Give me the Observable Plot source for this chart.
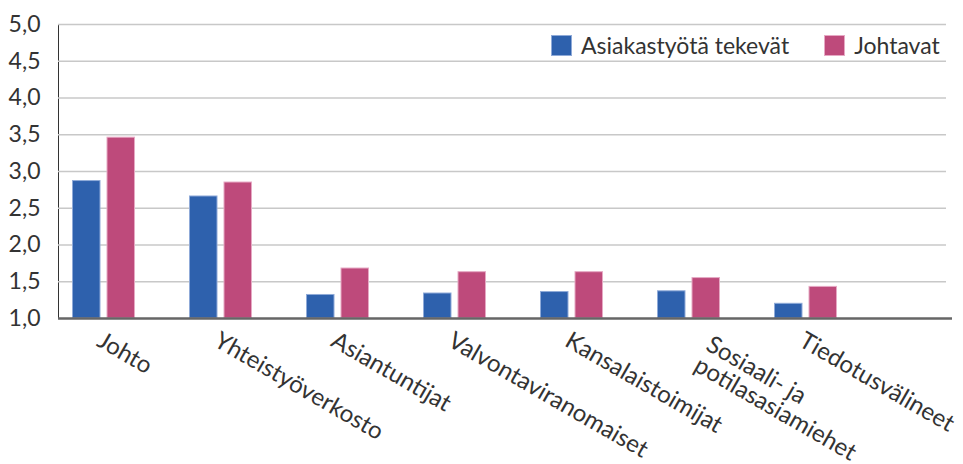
<!DOCTYPE html>
<html>
<head>
<meta charset="utf-8">
<script src="https://cdn.jsdelivr.net/npm/d3@7"></script>
<script src="https://cdn.jsdelivr.net/npm/@observablehq/plot@0.6"></script>
<style>
  html, body { margin: 0; padding: 0; background: #fff; }
  #wrap { position: relative; width: 963px; height: 464px; font-family: Lato, sans-serif; }
  #legend { position: absolute; top: 31px; left: 551px; width: 420px; display: flex; align-items: center; font-size: 23px; color: #333; white-space: nowrap; }
  #legend .item { display: flex; align-items: center; margin-right: 35px; flex: none; }
  #legend .sw { width: 21px; height: 21px; margin-right: 9px; box-sizing: border-box; flex: none; }
</style>
</head>
<body>
<div id="wrap"><div id="legend"></div></div>
<script>
const categories = ["Johto", "Yhteistyöverkosto", "Asiantuntijat", "Valvontaviranomaiset", "Kansalaistoimijat", "Sosiaali- ja\npotilasasiamiehet", "Tiedotusvälineet"];
const seriesNames = ["Asiakastyötä tekevät", "Johtavat"];
const asiakastyo = [2.87, 2.66, 1.32, 1.34, 1.36, 1.37, 1.20];
const johtavat = [3.46, 2.85, 1.68, 1.63, 1.63, 1.55, 1.43];
const yTicks = [1, 1.5, 2, 2.5, 3, 3.5, 4, 4.5, 5];
const colors = ["#2E61AD", "#BE4A7B"];
const strokes = ["#8FAAD8", "#E6A9C4"];

const dataA = categories.map((c, i) => ({cat: c, value: asiakastyo[i]}));
const dataJ = categories.map((c, i) => ({cat: c, value: johtavat[i]}));
const singleLine = categories.filter(c => !c.includes("\n"));
const multiLine = categories.filter(c => c.includes("\n"));

const xAxisOpts = {tickSize: 0, tickRotate: 30, tickPadding: 12, lineAnchor: "top", textAnchor: "start", label: null, fontSize: 24};

const chart = Plot.plot({
  width: 963,
  height: 464,
  marginLeft: 58,
  marginRight: 17,
  marginTop: 24,
  marginBottom: 146,
  style: {fontFamily: "Lato, sans-serif", fontSize: "23px", color: "#333", background: "#fff", overflow: "visible"},
  x: {domain: categories, range: [44.5, 863.5], padding: 0, label: null},
  y: {domain: [1, 5], ticks: yTicks, label: null, tickSize: 0, tickPadding: 18, line: true,
      tickFormat: d => d.toFixed(1).replace(".", ",")},
  marks: [
    Plot.ruleY(yTicks.slice(1), {stroke: "#c8c8c8", strokeWidth: 1.5}),
    Plot.barY(dataA, {x: "cat", y1: 1, y2: "value", fill: colors[0], stroke: strokes[0], strokeWidth: 1, insetLeft: 27.5, insetRight: 62}),
    Plot.barY(dataJ, {x: "cat", y1: 1, y2: "value", fill: colors[1], stroke: strokes[1], strokeWidth: 1, insetLeft: 62, insetRight: 27.5}),
    Plot.ruleY([1], {stroke: "#666", strokeWidth: 2.5, insetRight: -6}),
    Plot.axisX({...xAxisOpts, ticks: singleLine}),
    Plot.axisX({...xAxisOpts, ticks: multiLine, dx: 24, dy: 4})
  ]
});
document.getElementById("wrap").prepend(chart);

const legend = document.getElementById("legend");
seriesNames.forEach((name, i) => {
  const item = document.createElement("div");
  item.className = "item";
  const sw = document.createElement("div");
  sw.className = "sw";
  sw.style.background = colors[i];
  sw.style.border = "1px solid " + strokes[i];
  const t = document.createElement("span");
  t.textContent = name;
  item.append(sw, t);
  legend.append(item);
});
</script>
</body>
</html>
